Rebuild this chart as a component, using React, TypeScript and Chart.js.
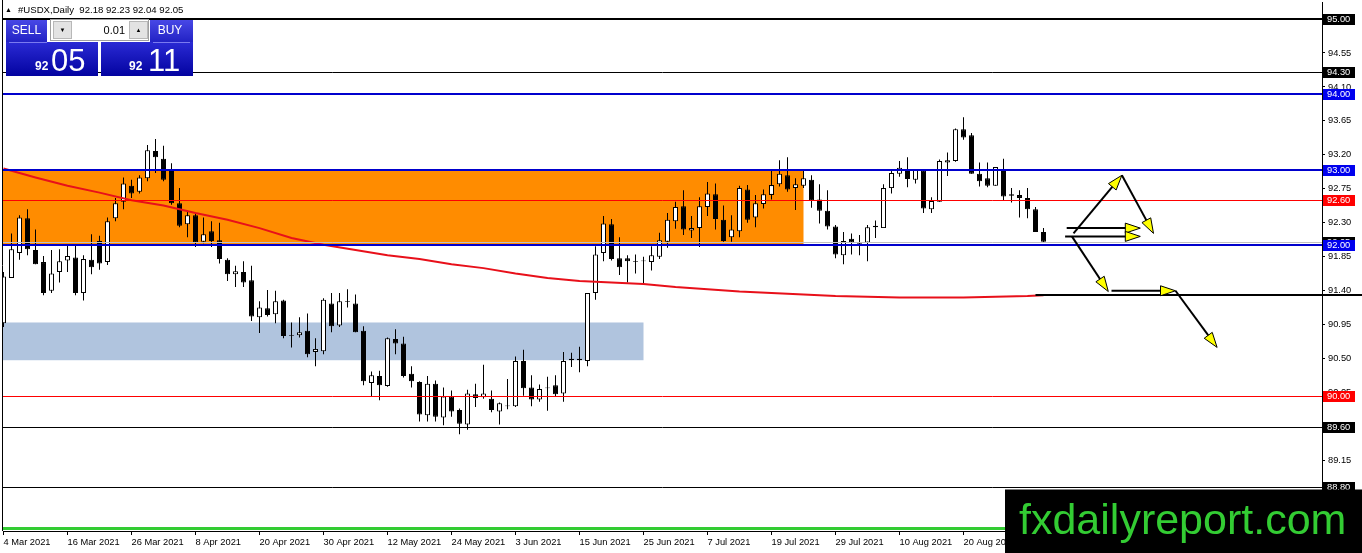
import React, { useEffect, useRef } from 'react';
import { Chart, registerables } from 'chart.js';

Chart.register(...registerables);

// ---- Candles (daily #USDX), bar index 0 = 4 Mar 2021 ----
const opens = [
  90.97, 91.57, 91.90, 92.36, 91.94, 91.78, 91.40, 91.65, 91.80, 91.84,
  91.37, 91.81, 92.06, 91.78, 92.36, 92.58, 92.79, 92.71, 92.89, 93.25,
  93.15, 93.01, 92.56, 92.28, 92.40, 92.05, 92.19, 92.07, 91.81, 91.62,
  91.65, 91.54, 91.05, 91.17, 91.09, 91.27, 90.81, 90.81, 90.87, 90.59,
  90.60, 91.23, 90.94, 91.26, 91.23, 90.87, 90.18, 90.27, 90.14, 90.76,
  90.70, 90.30, 90.19, 89.75, 90.17, 89.72, 90.00, 89.82, 89.63, 90.03,
  89.99, 89.97, 89.80, 89.88, 89.87, 90.47, 90.12, 89.96, 90.12, 90.15,
  90.04, 90.48, 90.48, 90.47, 91.37, 91.90, 92.28, 91.83, 91.83, 91.79,
  91.80, 91.78, 91.85, 92.05, 92.32, 92.52, 92.20, 92.23, 92.51, 92.68,
  92.34, 92.11, 92.19, 92.74, 92.37, 92.55, 92.67, 92.81, 92.93, 92.76,
  92.79, 92.87, 92.61, 92.46, 92.25, 91.87, 92.09, 92.03, 92.04, 92.24,
  92.23, 92.76, 92.95, 93.01, 92.87, 92.99, 92.48, 92.58, 93.10, 93.12,
  93.54, 93.46, 92.95, 92.89, 92.79, 93.01, 92.68, 92.67, 92.63, 92.48,
  92.18,
];
const highs = [
  91.65, 92.16, 92.40, 92.48, 92.21, 91.86, 91.94, 91.95, 92.01, 92.01,
  91.87, 92.15, 92.13, 92.37, 92.63, 92.90, 92.87, 92.93, 93.33, 93.41,
  93.32, 93.09, 92.76, 92.46, 92.43, 92.37, 92.32, 92.30, 91.83, 91.73,
  91.79, 91.73, 91.26, 91.41, 91.40, 91.28, 90.98, 91.05, 91.10, 90.77,
  91.30, 91.37, 91.37, 91.42, 91.35, 90.93, 90.33, 90.34, 90.78, 90.89,
  90.79, 90.40, 90.20, 90.27, 90.21, 90.12, 90.08, 89.84, 90.09, 90.17,
  90.42, 90.08, 89.92, 90.23, 90.53, 90.62, 90.28, 90.16, 90.26, 90.28,
  90.59, 90.58, 90.66, 91.37, 91.99, 92.39, 92.35, 92.11, 91.87, 91.88,
  91.85, 91.99, 92.17, 92.43, 92.58, 92.73, 92.39, 92.64, 92.84, 92.82,
  92.53, 92.40, 92.79, 92.80, 92.67, 92.74, 93.01, 93.13, 93.17, 92.89,
  93.00, 92.93, 92.81, 92.73, 92.27, 92.18, 92.16, 92.14, 92.27, 92.33,
  92.81, 93.01, 93.12, 93.17, 93.00, 93.00, 92.64, 93.14, 93.23, 93.55,
  93.70, 93.49, 93.10, 93.10, 93.04, 93.15, 92.76, 92.73, 92.76, 92.51,
  92.23,
];
const lows = [
  90.92, 91.57, 91.81, 91.87, 91.75, 91.34, 91.37, 91.51, 91.65, 91.34,
  91.27, 91.62, 91.68, 91.74, 92.32, 92.48, 92.63, 92.69, 92.85, 92.96,
  92.85, 92.54, 92.24, 92.11, 91.98, 92.03, 91.98, 91.76, 91.53, 91.45,
  91.45, 91.00, 90.84, 91.06, 90.97, 90.77, 90.65, 90.78, 90.52, 90.40,
  90.56, 90.85, 90.92, 91.18, 90.85, 90.15, 90.00, 89.95, 90.13, 90.56,
  90.25, 90.12, 89.67, 89.67, 89.67, 89.62, 89.73, 89.50, 89.56, 89.86,
  89.97, 89.79, 89.63, 89.83, 89.86, 90.01, 89.87, 89.93, 89.81, 90.00,
  89.93, 90.39, 90.32, 90.40, 91.28, 91.79, 91.80, 91.61, 91.51, 91.63,
  91.50, 91.67, 91.82, 91.97, 92.22, 92.14, 92.10, 91.98, 92.39, 92.21,
  92.05, 92.05, 92.11, 92.30, 92.24, 92.49, 92.61, 92.78, 92.71, 92.47,
  92.76, 92.50, 92.29, 92.21, 91.83, 91.75, 91.88, 91.87, 91.79, 92.10,
  92.23, 92.69, 92.91, 92.77, 92.82, 92.43, 92.43, 92.58, 92.92, 93.11,
  93.40, 92.95, 92.78, 92.77, 92.79, 92.60, 92.57, 92.37, 92.36, 92.18,
  92.04,
];
const closes = [
  91.59, 91.95, 92.37, 91.95, 91.75, 91.37, 91.63, 91.79, 91.86, 91.37,
  91.82, 91.71, 91.76, 92.32, 92.56, 92.82, 92.69, 92.90, 93.26, 93.17,
  92.87, 92.56, 92.26, 92.40, 92.04, 92.15, 92.06, 91.82, 91.62, 91.66,
  91.51, 91.06, 91.18, 91.08, 91.26, 90.80, 90.80, 90.85, 90.56, 90.63,
  91.28, 90.93, 91.26, 91.25, 90.85, 90.20, 90.28, 90.15, 90.77, 90.70,
  90.27, 90.20, 89.76, 90.17, 89.73, 90.00, 89.80, 89.64, 90.04, 89.98,
  90.04, 89.82, 89.91, 89.87, 90.47, 90.11, 89.96, 90.10, 90.11, 90.03,
  90.47, 90.50, 90.50, 91.37, 91.88, 92.29, 91.82, 91.71, 91.79, 91.78,
  91.79, 91.87, 92.07, 92.34, 92.51, 92.21, 92.23, 92.52, 92.69, 92.35,
  92.06, 92.21, 92.76, 92.34, 92.56, 92.68, 92.80, 92.95, 92.74, 92.81,
  92.89, 92.60, 92.46, 92.25, 91.88, 92.06, 92.04, 92.02, 92.24, 92.26,
  92.76, 92.96, 93.03, 92.88, 93.00, 92.49, 92.59, 93.12, 93.13, 93.54,
  93.43, 92.95, 92.85, 92.79, 93.04, 92.65, 92.66, 92.63, 92.48, 92.18,
  92.05,
];

// ---- Moving average (red), read at sampled bars ----
const maBars = [0, 4, 8, 12, 16, 20, 24, 28, 32, 36, 40, 44, 48, 52, 56, 60, 64, 68, 72, 76, 80, 84, 88, 92, 96, 100, 104, 108, 112, 116, 120, 124, 128, 130];
const maValues = [93.02, 92.90, 92.79, 92.70, 92.60, 92.53, 92.43, 92.34, 92.23, 92.10, 92.01, 91.94, 91.87, 91.82, 91.75, 91.70, 91.63, 91.57, 91.53, 91.51, 91.49, 91.45, 91.42, 91.39, 91.37, 91.35, 91.33, 91.32, 91.31, 91.31, 91.31, 91.32, 91.33, 91.34];

// ---- Axes ----
const dateTickBars = [0, 8, 16, 24, 32, 40, 48, 56, 64, 72, 80, 88, 96, 104, 112, 120];
const dateLabels = ['4 Mar 2021', '16 Mar 2021', '26 Mar 2021', '8 Apr 2021', '20 Apr 2021', '30 Apr 2021', '12 May 2021', '24 May 2021', '3 Jun 2021', '15 Jun 2021', '25 Jun 2021', '7 Jul 2021', '19 Jul 2021', '29 Jul 2021', '10 Aug 2021', '20 Aug 2021'];
const priceTicks = [94.55, 94.10, 93.65, 93.20, 92.75, 92.30, 91.85, 91.40, 90.95, 90.50, 90.05, 89.60, 89.15, 88.70];
const priceMin = 88.218;
const priceMax = 95.225;

// ---- Horizontal levels ----
const levelPrices = [95.00, 94.30, 94.00, 93.00, 92.60, 92.05, 92.00, 90.00, 89.60, 88.80, 88.26];
const levelColors = ['#000000', '#000000', '#0000CD', '#0000CD', '#FF0000', '#C0C0C0', '#0000CD', '#FF0000', '#000000', '#000000', '#33CC33'];
const levelWidths = [2, 1, 2, 2, 1, 1, 2, 1, 1, 1, 3];

// price tags on the right axis
const tagPrices = [95.00, 94.30, 94.00, 93.00, 92.60, 92.05, 92.00, 90.00, 89.60, 88.80];
const tagColors = ['#000000', '#000000', '#0000EE', '#0000EE', '#FF0000', '#000000', '#0000EE', '#FF0000', '#000000', '#000000'];

// ---- Zones (rectangles) ----
const zoneFromBar = [-2, -2];
const zoneToBar = [100, 80];
const zoneTop = [93.00, 90.98];
const zoneBottom = [92.00, 90.48];
const zoneColors = ['#FF8C00', '#B0C4DE'];

// ---- Ray ----
const rayFromBar = 129;
const rayPrice = 91.34;

// ---- Arrows ----
const arrowFromBar = [133.75, 139.8, 132.9, 132.7, 133.55, 138.5, 146.5];
const arrowFromPrice = [92.16, 92.93, 92.23, 92.12, 92.12, 91.40, 91.40];
const arrowToBar = [139.8, 143.75, 142.1, 142.1, 138.1, 146.5, 151.7];
const arrowToPrice = [92.93, 92.16, 92.23, 92.12, 91.39, 91.40, 90.65];

// ---- Texts ----
const titleText = '#USDX,Daily  92.18 92.23 92.04 92.05';
const sellBig = ['92', '05'];
const buyBig = ['92', '11'];
const lotText = '0.01';
const watermark = 'fxdailyreport.com';

const FONT = "'Liberation Sans', Arial, sans-serif";

function drawArrow(ctx: CanvasRenderingContext2D, x0: number, y0: number, x1: number, y1: number) {
  const ang = Math.atan2(y1 - y0, x1 - x0);
  const len = 15;
  const hw = 5;
  ctx.strokeStyle = '#000';
  ctx.lineWidth = 2;
  ctx.beginPath();
  ctx.moveTo(x0, y0);
  ctx.lineTo(x1 - Math.cos(ang) * 4, y1 - Math.sin(ang) * 4);
  ctx.stroke();
  const bx = x1 - Math.cos(ang) * len;
  const by = y1 - Math.sin(ang) * len;
  ctx.beginPath();
  ctx.moveTo(x1, y1);
  ctx.lineTo(bx + Math.sin(ang) * hw, by - Math.cos(ang) * hw);
  ctx.lineTo(bx - Math.sin(ang) * hw, by + Math.cos(ang) * hw);
  ctx.closePath();
  ctx.fillStyle = '#FFFF00';
  ctx.fill();
  ctx.lineWidth = 1;
  ctx.strokeStyle = '#000';
  ctx.stroke();
}

const overlayPlugin = {
  id: 'overlay',
  beforeDatasetsDraw(chart: any) {
    const { ctx, chartArea: a, scales } = chart;
    const x = scales.x;
    const y = scales.y;
    ctx.save();
    ctx.beginPath();
    ctx.rect(a.left, a.top, a.right - a.left, a.bottom - a.top);
    ctx.clip();
    for (let i = 0; i < zoneColors.length; i++) {
      const x0 = x.getPixelForValue(zoneFromBar[i]);
      const x1 = x.getPixelForValue(zoneToBar[i]);
      const y0 = y.getPixelForValue(zoneTop[i]);
      const y1 = y.getPixelForValue(zoneBottom[i]);
      ctx.fillStyle = zoneColors[i];
      ctx.fillRect(x0, y0, x1 - x0, y1 - y0);
    }
    ctx.restore();
  },
  afterDatasetsDraw(chart: any) {
    const { ctx, chartArea: a, scales } = chart;
    const x = scales.x;
    const y = scales.y;
    ctx.save();
    for (let i = 0; i < levelPrices.length; i++) {
      const w = levelWidths[i];
      let yy = Math.round(y.getPixelForValue(levelPrices[i]));
      if (w % 2 === 1) yy += 0.5;
      ctx.strokeStyle = levelColors[i];
      ctx.lineWidth = w;
      ctx.beginPath();
      ctx.moveTo(a.left, yy);
      ctx.lineTo(a.right, yy);
      ctx.stroke();
    }
    // ray
    const ry = Math.round(y.getPixelForValue(rayPrice));
    ctx.strokeStyle = '#000';
    ctx.lineWidth = 2;
    ctx.beginPath();
    ctx.moveTo(x.getPixelForValue(rayFromBar), ry);
    ctx.lineTo(chart.width, ry);
    ctx.stroke();
    // arrows
    for (let i = 0; i < arrowFromBar.length; i++) {
      drawArrow(
        ctx,
        x.getPixelForValue(arrowFromBar[i]),
        y.getPixelForValue(arrowFromPrice[i]),
        x.getPixelForValue(arrowToBar[i]),
        y.getPixelForValue(arrowToPrice[i])
      );
    }
    ctx.restore();
  },
  afterDraw(chart: any) {
    const { ctx, chartArea: a, scales } = chart;
    const y = scales.y;
    ctx.save();
    // left border
    ctx.strokeStyle = '#000';
    ctx.lineWidth = 1;
    ctx.beginPath();
    ctx.moveTo(a.left - 0.5, 0);
    ctx.lineTo(a.left - 0.5, a.bottom);
    ctx.stroke();

    // price tags
    ctx.font = `9.3px ${FONT}`;
    ctx.textBaseline = 'middle';
    ctx.textAlign = 'left';
    for (let i = 0; i < tagPrices.length; i++) {
      const yy = Math.round(y.getPixelForValue(tagPrices[i]));
      ctx.fillStyle = tagColors[i];
      ctx.fillRect(a.right + 1, yy - 5, 32, 11);
      ctx.fillStyle = '#FFFFFF';
      ctx.fillText(tagPrices[i].toFixed(2), a.right + 5, yy + 0.5);
    }

    // title
    ctx.fillStyle = '#000';
    ctx.font = `7px ${FONT}`;
    ctx.fillText('▲', 5, 10.5);
    ctx.font = `9.6px ${FONT}`;
    ctx.fillText(titleText, 18, 10.5);

    // one-click trading panel
    const hg = ctx.createLinearGradient(0, 20, 0, 42);
    hg.addColorStop(0, '#4848E6');
    hg.addColorStop(1, '#2222C4');
    ctx.fillStyle = hg;
    ctx.fillRect(6, 20, 41, 22);
    ctx.fillRect(150, 20, 43, 22);
    const bg = ctx.createLinearGradient(0, 42, 0, 76);
    bg.addColorStop(0, '#2A2AD4');
    bg.addColorStop(1, '#0303A0');
    ctx.fillStyle = bg;
    ctx.fillRect(6, 42, 92, 34);
    ctx.fillRect(101, 42, 92, 34);
    ctx.strokeStyle = '#7A7AF0';
    ctx.beginPath();
    ctx.moveTo(9, 42.5); ctx.lineTo(47, 42.5);
    ctx.moveTo(153, 42.5); ctx.lineTo(190, 42.5);
    ctx.stroke();
    // spinner
    ctx.fillStyle = '#FFFFFF';
    ctx.fillRect(50, 19, 99, 22);
    ctx.strokeStyle = '#A0A0A0';
    ctx.strokeRect(50.5, 19.5, 98, 21);
    ctx.fillStyle = '#E3E3E3';
    ctx.fillRect(53, 21, 19, 18);
    ctx.fillRect(129, 21, 19, 18);
    ctx.strokeStyle = '#B8B8B8';
    ctx.strokeRect(53.5, 21.5, 18, 17);
    ctx.strokeRect(129.5, 21.5, 18, 17);
    ctx.fillStyle = '#000';
    ctx.font = `6px ${FONT}`;
    ctx.textAlign = 'center';
    ctx.fillText('▼', 62.5, 30.5);
    ctx.fillText('▲', 138.5, 30.5);
    ctx.font = `11px ${FONT}`;
    ctx.textAlign = 'right';
    ctx.fillText(lotText, 125, 30.5);
    // buttons text
    ctx.fillStyle = '#FFFFFF';
    ctx.textAlign = 'center';
    ctx.font = `12px ${FONT}`;
    ctx.fillText('SELL', 26.5, 31);
    ctx.fillText('BUY', 170, 31);
    ctx.textAlign = 'left';
    ctx.textBaseline = 'alphabetic';
    ctx.font = `bold 12px ${FONT}`;
    ctx.fillText(sellBig[0], 35, 70);
    ctx.fillText(buyBig[0], 129, 70);
    ctx.font = `31px ${FONT}`;
    ctx.fillText(sellBig[1], 51, 71);
    ctx.fillText(buyBig[1], 148, 71);

    // watermark
    ctx.fillStyle = '#000000';
    ctx.fillRect(1005, 489.5, chart.width - 1005, chart.height - 489.5);
    ctx.fillStyle = '#33CC33';
    ctx.font = `43px ${FONT}`;
    ctx.textAlign = 'left';
    ctx.fillText(watermark, 1019, 534);
    ctx.restore();
  },
};

export default function App() {
  const ref = useRef<HTMLCanvasElement>(null);
  useEffect(() => {
    document.body.style.margin = '0';
    const idx = opens.map((_, i) => i);
    const chart = new Chart(ref.current as HTMLCanvasElement, {
      type: 'bar',
      data: {
        datasets: [
          {
            type: 'line',
            data: maBars.map((b, i) => ({ x: b, y: maValues[i] })),
            borderColor: '#E8101A',
            borderWidth: 2,
            pointRadius: 0,
            tension: 0,
            order: 0,
            clip: 0,
          } as any,
          {
            type: 'bar',
            data: idx.map((i) => ({ x: i, y: [opens[i], closes[i]] })),
            backgroundColor: idx.map((i) => (closes[i] >= opens[i] ? '#FFFFFF' : '#000000')),
            borderColor: '#000000',
            borderWidth: 1,
            borderSkipped: false,
            barThickness: 5,
            grouped: false,
            inflateAmount: 0,
            order: 1,
            clip: 0,
          } as any,
          {
            type: 'bar',
            data: idx.map((i) => ({ x: i, y: [lows[i], highs[i]] })),
            backgroundColor: '#000000',
            borderWidth: 0,
            barThickness: 1,
            grouped: false,
            inflateAmount: 0,
            order: 2,
            clip: 0,
          } as any,
        ],
      },
      options: {
        animation: false,
        responsive: false,
        devicePixelRatio: 1,
        events: [],
        layout: { padding: { left: 3, top: 2, right: 0, bottom: 0 } },
        plugins: { legend: { display: false }, tooltip: { enabled: false } },
        scales: {
          x: {
            type: 'linear',
            offset: false,
            min: -0.0625,
            max: -0.0625 + 1319 / 8,
            grid: { display: true, drawOnChartArea: false, drawTicks: true, tickLength: 4, color: '#000', offset: false },
            border: { display: true, color: '#000', width: 1 },
            ticks: {
              autoSkip: false,
              maxRotation: 0,
              align: 'start',
              padding: 2,
              color: '#000',
              font: { family: FONT, size: 9.3 },
              callback: (v: any) => {
                const k = dateTickBars.indexOf(Number(v));
                return k >= 0 ? dateLabels[k] : '';
              },
            },
            afterBuildTicks: (s: any) => {
              s.ticks = dateTickBars.map((v) => ({ value: v }));
            },
            afterFit: (s: any) => {
              s.height = 22;
              s.paddingLeft = 0;
              s.paddingRight = 0;
              s.paddingTop = 0;
              s.paddingBottom = 0;
            },
          } as any,
          y: {
            type: 'linear',
            position: 'right',
            min: priceMin,
            max: priceMax,
            grid: { display: true, drawOnChartArea: false, drawTicks: true, tickLength: 3, color: '#000' },
            border: { display: true, color: '#000', width: 1 },
            ticks: {
              autoSkip: false,
              padding: 3,
              color: '#000',
              font: { family: FONT, size: 9.3 },
              callback: (v: any) => Number(v).toFixed(2),
            },
            afterBuildTicks: (s: any) => {
              s.ticks = priceTicks.map((v) => ({ value: v }));
            },
            afterFit: (s: any) => {
              s.width = 40;
              s.paddingLeft = 0;
              s.paddingRight = 0;
              s.paddingTop = 0;
              s.paddingBottom = 0;
            },
          } as any,
        },
      },
      plugins: [overlayPlugin],
    });
    return () => chart.destroy();
  }, []);
  return (
    <div style={{ position: 'fixed', left: 0, top: 0, width: 1362, height: 553, background: '#fff' }}>
      <canvas ref={ref} width={1362} height={553} style={{ display: 'block' }} />
    </div>
  );
}
